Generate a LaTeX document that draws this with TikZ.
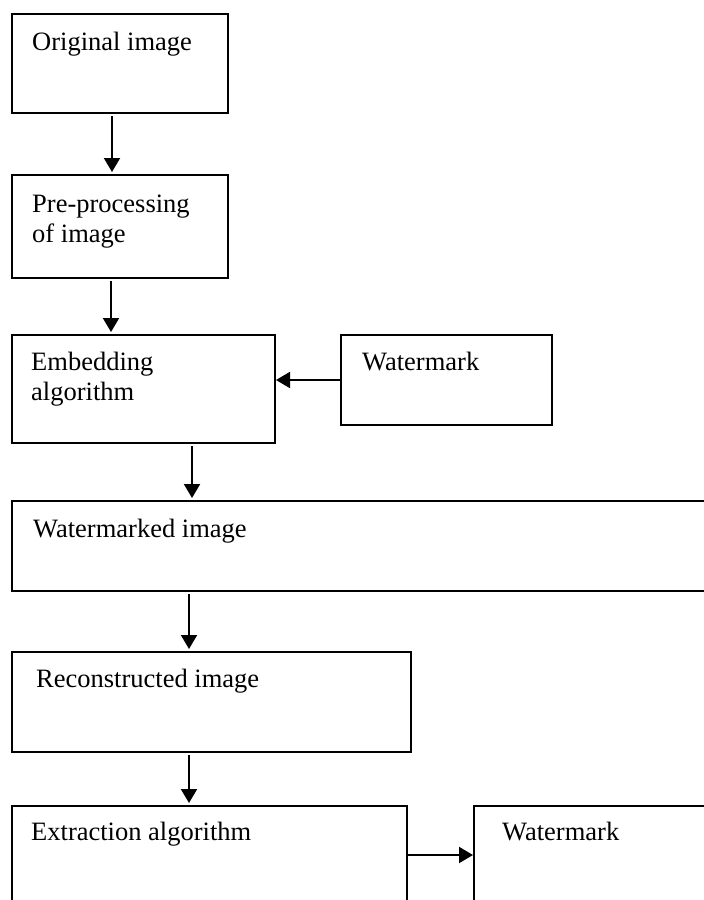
\documentclass[tikz,border=0pt]{standalone}
\usepackage{fontspec}
\setmainfont{Liberation Serif}
\usetikzlibrary{arrows.meta,positioning}
\tikzstyle{stage} = [rectangle, draw, line width=2pt, anchor=north west,
    inner sep=0pt, outer sep=0pt]
\tikzstyle{caption} = [anchor=base west, inner sep=0pt, align=left,
    font=\fontsize{26.5}{30}\selectfont]
\tikzstyle{flow} = [draw, line width=2pt, shorten <=3pt, shorten >=3pt,
    -{Triangle[length=14pt,width=16pt]}]

\begin{document}
\begin{tikzpicture}[x=1pt, y=-1pt]
    \useasboundingbox (0,0) rectangle (704,900);
    \fill[white] (0,0) rectangle (704,900);
    \clip (0,0) rectangle (704,900);

    \node[stage, minimum width=216pt, minimum height=99pt] (original) at (12,14) {};
    \node[stage, minimum width=216pt, minimum height=103pt,
        below=62pt of original.south west, anchor=north west] (preprocess) {};
    \node[stage, minimum width=263pt, minimum height=108pt,
        below=57pt of preprocess.south west, anchor=north west] (embedding) {};
    \node[stage, minimum width=211pt, minimum height=90pt,
        right=66pt of embedding.north east, anchor=north west] (watermarkIn) {};
    \node[stage, minimum width=710pt, minimum height=90pt,
        below=58pt of embedding.south west, anchor=north west] (watermarked) {};
    \node[stage, minimum width=399pt, minimum height=100pt,
        below=61pt of watermarked.south west, anchor=north west] (reconstructed) {};
    \node[stage, minimum width=395pt, minimum height=98pt,
        below=54pt of reconstructed.south west, anchor=north west] (extraction) {};
    \node[stage, minimum width=260pt, minimum height=98pt,
        right=67pt of extraction.north east, anchor=north west] (watermarkOut) {};

    % two-line captions sit on their last line
    \node[caption] (originalText) at ([shift={(20,36)}]original.north west) {Original image};
    \node[caption] (preprocessText) at ([shift={(20,67)}]preprocess.north west) {Pre-processing\\of image};
    \node[caption] (embeddingText) at ([shift={(19,65)}]embedding.north west) {Embedding\\algorithm};
    \node[caption] (watermarkInText) at ([shift={(21,35)}]watermarkIn.north west) {Watermark};
    \node[caption] (watermarkedText) at ([shift={(21,36)}]watermarked.north west) {Watermarked image};
    \node[caption] (reconstructedText) at ([shift={(24,35)}]reconstructed.north west) {Reconstructed image};
    \node[caption] (extractionText) at ([shift={(19,34)}]extraction.north west) {Extraction algorithm};
    \node[caption] (watermarkOutText) at ([shift={(28,34)}]watermarkOut.north west) {Watermark};

    \coordinate (downA) at ([xshift=100pt]original.south west);
    \coordinate (downB) at ([xshift=99pt]preprocess.south west);
    \coordinate (downC) at ([xshift=180pt]embedding.south west);
    \coordinate (downD) at ([xshift=177pt]watermarked.south west);
    \coordinate (downE) at ([xshift=177pt]reconstructed.south west);

    \path[flow] (downA) -- (downA |- preprocess.north);
    \path[flow] (downB) -- (downB |- embedding.north);
    \path[flow] (downC) -- (downC |- watermarked.north);
    \path[flow] (downD) -- (downD |- reconstructed.north);
    \path[flow] (downE) -- (downE |- extraction.north);

    \path[flow, shorten <=0pt, shorten >=1pt] (watermarkIn.west) -- (watermarkIn.west -| embedding.east);
    \path[flow, shorten <=0pt, shorten >=1pt] (extraction.east) -- (watermarkOut.west);
\end{tikzpicture}
\end{document}
